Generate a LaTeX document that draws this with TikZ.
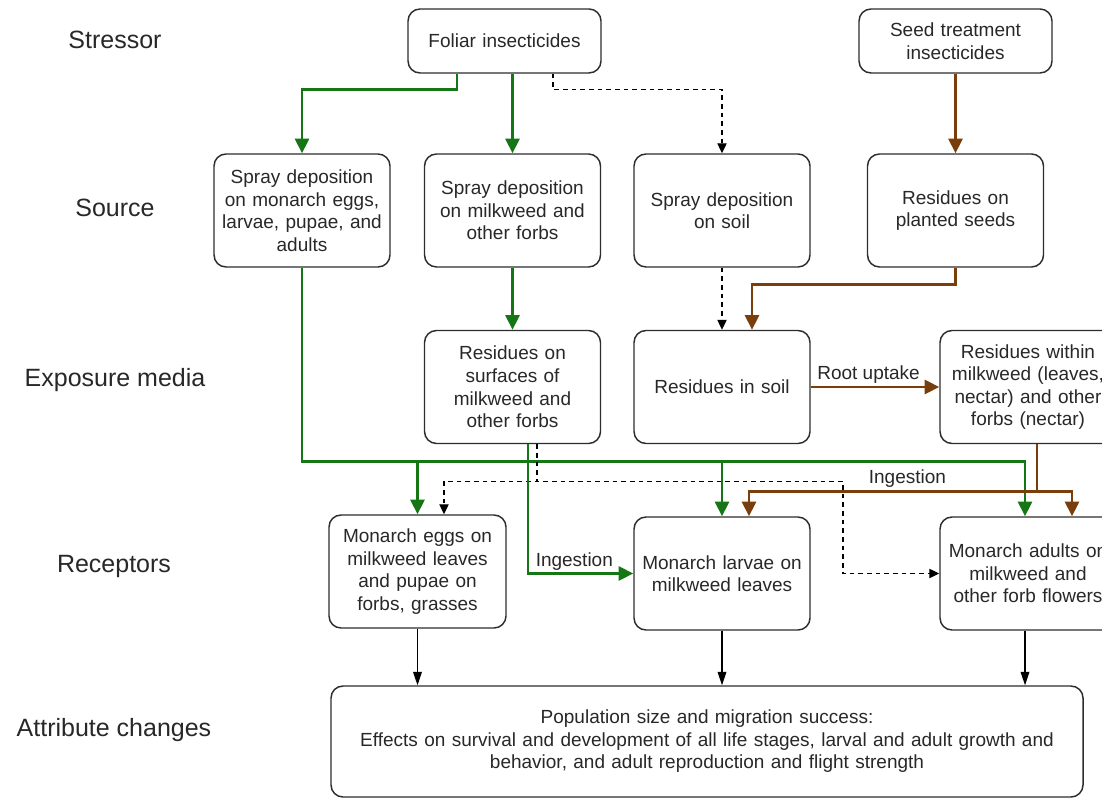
\documentclass[tikz,border=0pt]{standalone}
\usepackage{fontspec}
\setmainfont{Liberation Sans}
\usetikzlibrary{arrows.meta,calc}
\definecolor{gr}{RGB}{22,118,22}
\definecolor{br}{RGB}{122,62,12}
\definecolor{tx}{RGB}{40,40,40}
\definecolor{bd}{RGB}{45,45,45}
\tikzset{
  box/.style={draw=bd,line width=1.1pt,rounded corners=9pt,align=center,text=tx,
    font=\fontsize{14.25}{16.9}\selectfont,inner sep=2pt,
    minimum width=132pt,minimum height=84.75pt,text width=128pt},
  topbox/.style={box,minimum width=144.75pt,minimum height=48pt,text width=140pt},
  lab/.style={text=tx,font=\fontsize{18.75}{22}\selectfont},
  elab/.style={text=tx,font=\fontsize{14.25}{16.9}\selectfont,inner sep=1.5pt},
  garr/.style={draw=gr,line width=2.2pt,-{Triangle[length=11pt,width=10.5pt]}},
  barr/.style={draw=br,line width=2.2pt,-{Triangle[length=11pt,width=10.5pt]}},
  darr/.style={draw=black,line width=0.9pt,dash pattern=on 3.5pt off 3pt,-{Triangle[length=7.5pt,width=7pt]}},
  karr/.style={draw=black,line width=0.9pt,-{Triangle[length=10pt,width=6.5pt]}},
}
\begin{document}
\begin{tikzpicture}[x=0.75pt,y=-0.75pt]
\useasboundingbox (0,0) rectangle (1102,798);
\clip (0,0) rectangle (1102,798);
\fill[white] (0,0) rectangle (1102,798);
% row labels
\node[lab] (lstr) at (115,40) {Stressor};
\node[lab] (lsrc) at (115,208) {Source};
\node[lab] (lexp) at (115,380) {Exposure media};
\node[lab] (lrec) at (114,566) {Receptors};
\node[lab] (latt) at (114,730) {Attribute changes};
% nodes
\node[topbox] (foliar) at (504.5,41) {Foliar insecticides};
\node[topbox] (seed) at (955.5,41) {Seed treatment\\insecticides};
\node[box] (spraymon) at (302,210.5) {Spray deposition\\on monarch eggs,\\larvae, pupae, and\\adults};
\node[box] (spraymw) at (512.5,210.5) {Spray deposition\\on milkweed and\\other forbs};
\node[box] (spraysoil) at (722,210.5) {Spray deposition\\on soil};
\node[box] (seeds) at (955.5,210.5) {Residues on\\planted seeds};
\node[box] (ressurf) at (512.5,387) {Residues on\\surfaces of\\milkweed and\\other forbs};
\node[box] (ressoil) at (722,387) {Residues in soil};
\node[box] (reswithin) at (1028,387) {Residues within\\milkweed (leaves,\\nectar) and other\\forbs (nectar)};
\node[box,minimum width=132.75pt] (eggs) at (417.5,571.5) {Monarch eggs on\\milkweed leaves\\and pupae on\\forbs, grasses};
\node[box] (larvae) at (722,573.5) {Monarch larvae on\\milkweed leaves};
\node[box] (adults) at (1028,573.5) {Monarch adults on\\milkweed and\\other forb flowers};
\node[box,minimum width=564pt,minimum height=83.25pt,text width=560pt] (pop) at (707,741.5)
  {Population size and migration success:\\Effects on survival and development of all life stages, larval and adult growth and\\behavior, and adult reproduction and flight strength};
% stressor -> source
\draw[garr] ($(foliar.south)+(-47.5,0)$) -- ++(0,16) -| (spraymon.north);
\draw[garr] (spraymw.north |- foliar.south) -- (spraymw.north);
\draw[darr] ($(foliar.south)+(48.5,0)$) -- ++(0,16) -| (spraysoil.north);
\draw[barr] (seed.south) -- (seeds.north);
% source -> exposure
\draw[garr] (spraymw.south) -- (ressurf.north);
\draw[darr] (spraysoil.south) -- (ressoil.north);
\draw[barr] (seeds.south) -- ++(0,17) -| ($(ressoil.north)+(30,0)$);
\draw[barr] (ressoil.east) -- node[elab,above,pos=0.45] (lroot) {Root uptake} (reswithin.west);
% spray on monarchs -> receptors
\draw[garr] (spraymon.south) -- ++(0,194) -| ($(adults.north)+(-3,0)$);
\draw[garr] (spraymon.south) -- ++(0,194) -| (larvae.north);
\draw[garr] (spraymon.south) -- ++(0,194) -| (eggs.north);
% residues on surfaces -> receptors
\draw[darr] ($(ressurf.south)+(24.5,0)$) -- ++(0,37) -| ($(eggs.north)+(26.5,0)$);
\draw[darr] ($(ressurf.south)+(24.5,0)$) -- ++(0,37) -- ++(306,0) |- (adults.west);
\draw[garr] ($(ressurf.south)+(15.5,0)$) |- node[elab,above,pos=0.72] (ling1) {Ingestion} (larvae.west);
% residues within -> receptors
\draw[barr] ($(reswithin.south)+(9,0)$) -- ++(0,47) -| ($(adults.north)+(44,0)$);
\draw[barr] ($(reswithin.south)+(9,0)$) -- ++(0,47) -| node[elab,above,pos=0.225] (ling2) {Ingestion} ($(larvae.north)+(27,0)$);
% receptors -> attribute
\draw[karr] (eggs.south) -- (eggs.south |- pop.north);
\draw[karr] (larvae.south) -- (larvae.south |- pop.north);
\draw[karr] ($(adults.south)+(-3,0)$) -- ($(adults.south |- pop.north)+(-3,0)$);
\end{tikzpicture}
\end{document}
